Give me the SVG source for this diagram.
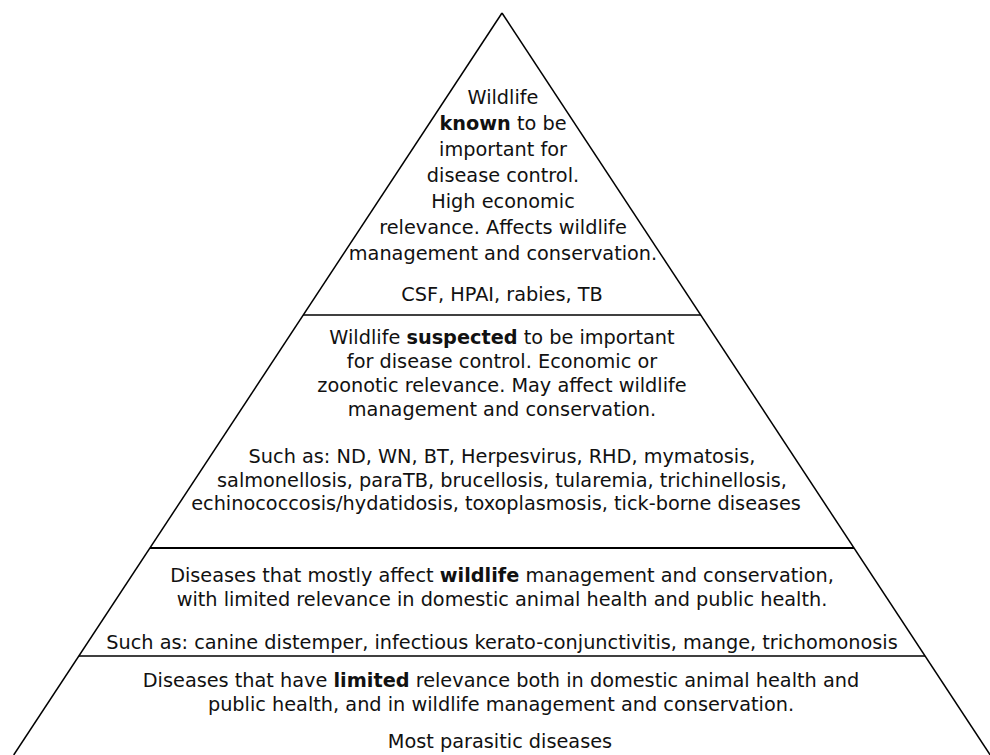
<svg xmlns="http://www.w3.org/2000/svg" width="990" height="755" viewBox="0 0 990 755">
<style>
  .edge { stroke: #000; stroke-width: 1.5; fill: none; }
  .t { font-family: "DejaVu Sans", "Liberation Sans", sans-serif; font-size: 19.3px; fill: #111; text-anchor: middle; }
  .b { font-weight: bold; }
</style>
<rect width="990" height="755" fill="#fff"/>
<g id="connectors">
  <line class="edge" x1="13.7" y1="755" x2="502" y2="13"/>
  <line class="edge" x1="502" y1="13" x2="990.2" y2="755"/>
  <line class="edge" x1="303" y1="315" x2="701" y2="315"/>
  <line class="edge" x1="150" y1="548" x2="854" y2="548" style="stroke-width:2"/>
  <line class="edge" x1="79" y1="656" x2="925" y2="656"/>
</g>
<g id="tier-known">
  <text class="t" x="503" y="104">Wildlife</text>
  <text class="t" x="503" y="130"><tspan class="b">known</tspan> to be</text>
  <text class="t" x="503" y="156">important for</text>
  <text class="t" x="503" y="182">disease control.</text>
  <text class="t" x="503" y="208">High economic</text>
  <text class="t" x="503" y="234">relevance. Affects wildlife</text>
  <text class="t" x="503" y="260">management and conservation.</text>
  <text class="t" x="502" y="301">CSF, HPAI, rabies, TB</text>
</g>
<g id="tier-suspected">
  <text class="t" x="502" y="344">Wildlife <tspan class="b">suspected</tspan> to be important</text>
  <text class="t" x="502" y="368">for disease control. Economic or</text>
  <text class="t" x="502" y="392">zoonotic relevance. May affect wildlife</text>
  <text class="t" x="502" y="416">management and conservation.</text>
  <text class="t" x="502" y="463">Such as: ND, WN, BT, Herpesvirus, RHD, mymatosis,</text>
  <text class="t" x="502" y="487">salmonellosis, paraTB, brucellosis, tularemia, trichinellosis,</text>
  <text class="t" x="496" y="510">echinococcosis/hydatidosis, toxoplasmosis, tick-borne diseases</text>
</g>
<g id="tier-wildlife">
  <text class="t" x="502" y="582">Diseases that mostly affect <tspan class="b">wildlife</tspan> management and conservation,</text>
  <text class="t" x="502" y="606">with limited relevance in domestic animal health and public health.</text>
  <text class="t" x="502" y="649">Such as: canine distemper, infectious kerato-conjunctivitis, mange, trichomonosis</text>
</g>
<g id="tier-limited">
  <text class="t" x="501" y="687">Diseases that have <tspan class="b">limited</tspan> relevance both in domestic animal health and</text>
  <text class="t" x="501" y="711">public health, and in wildlife management and conservation.</text>
  <text class="t" x="500" y="748">Most parasitic diseases</text>
</g>
</svg>
